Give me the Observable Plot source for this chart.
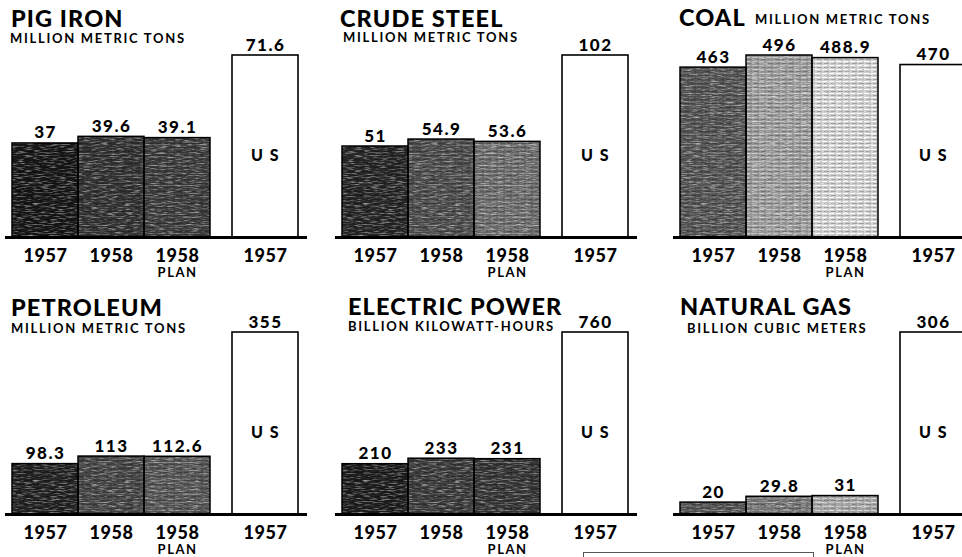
<!DOCTYPE html>
<html>
<head>
<meta charset="utf-8">
<script src="https://cdn.jsdelivr.net/npm/d3@7"></script>
<script src="https://cdn.jsdelivr.net/npm/@observablehq/plot@0.6"></script>
<style>
  html, body { margin: 0; padding: 0; background: #fff; overflow: hidden; }
  #root { position: relative; width: 962px; height: 557px; overflow: hidden; font-family: "Lato", "DejaVu Sans", sans-serif; color: #000; }
  .panel { position: absolute; width: 320px; height: 278px; }
  .panel svg { position: absolute; left: 0; top: 0; overflow: visible; }
  .panel svg text { letter-spacing: 1.5px; }
  .panel svg g.yr text { letter-spacing: 0.6px; }
  .title { position: absolute; font-weight: 900; font-size: 23.5px; line-height: 20px; white-space: nowrap; letter-spacing: 1.1px; }
  .unit { position: absolute; font-weight: 700; font-size: 13px; line-height: 11px; white-space: nowrap; letter-spacing: 1.7px; }
  #box { position: absolute; left: 583px; top: 552px; width: 229px; height: 20px; border: 1px solid #555; }
</style>
</head>
<body>
<div id="root"></div>
<script>
// ---------- data ----------
const panelNames = ["PIG IRON", "CRUDE STEEL", "COAL", "PETROLEUM", "ELECTRIC POWER", "NATURAL GAS"];
const panelUnits = ["MILLION METRIC TONS", "MILLION METRIC TONS", "MILLION METRIC TONS",
                    "MILLION METRIC TONS", "BILLION KILOWATT-HOURS", "BILLION CUBIC METERS"];
const ussr1957 = [37, 51, 463, 98.3, 210, 20];
const ussr1958 = [39.6, 54.9, 496, 113, 233, 29.8];
const ussr1958Plan = [39.1, 53.6, 488.9, 112.6, 231, 31];
const us1957 = [71.6, 102, 470, 355, 760, 306];
const barKeys = ["ussr1957", "ussr1958", "ussr1958plan", "us1957"];
const barYears = ["1957", "1958", "1958", "1957"];
const barSubLabels = ["", "", "PLAN", ""];
const usLabel = "U S";

// ---------- styles (kept apart from data) ----------
const shades = [
  ["#141414", "#2e2e2e", "#383838"],
  ["#222222", "#474747", "#666666"],
  ["#4e4e4e", "#959595", "#cccccc"],
  ["#1e1e1e", "#404040", "#505050"],
  ["#1a1a1a", "#363636", "#313131"],
  ["#4e4e4e", "#6e6e6e", "#a0a0a0"]
];
const colX = [0, 330, 668];
const rowY = [0, 277];
const titleLayout = [
  {t: [11, 8], u: [10, 33]},
  {t: [340, 8], u: [343, 32]},
  {t: [679, 7], u: [755, 14]},
  {t: [11, 297], u: [11, 323]},
  {t: [348, 296], u: [348, 321]},
  {t: [680, 296], u: [687, 323]}
];
const usShift = 22;
const fontFam = "Lato, 'DejaVu Sans', sans-serif";

// ---------- pattern + grain defs ----------
const root = document.getElementById("root");
const NS = "http://www.w3.org/2000/svg";
const defsSvg = document.createElementNS(NS, "svg");
defsSvg.setAttribute("width", 0); defsSvg.setAttribute("height", 0);
defsSvg.style.position = "absolute";
defsSvg.innerHTML = `<defs>
  <filter id="grain" x="0" y="0" width="1" height="1" color-interpolation-filters="sRGB">
    <feTurbulence type="fractalNoise" baseFrequency="0.12 0.9" numOctaves="2" seed="7" result="n"/>
    <feColorMatrix in="n" type="matrix" values="0 0 0 0 1  0 0 0 0 1  0 0 0 0 1  1.5 0 0 0 -0.72" result="w"/>
    <feComposite in="w" in2="SourceGraphic" operator="in" result="wm"/>
    <feMerge><feMergeNode in="SourceGraphic"/><feMergeNode in="wm"/></feMerge>
  </filter>
</defs>`;
root.appendChild(defsSvg);
const defs = defsSvg.querySelector("defs");

function patternId(i, j) { return `pat-${i}-${j}`; }
shades.forEach((row, i) => row.forEach((c, j) => {
  const p = document.createElementNS(NS, "pattern");
  p.setAttribute("id", patternId(i, j));
  p.setAttribute("patternUnits", "userSpaceOnUse");
  p.setAttribute("width", 7); p.setAttribute("height", 4);
  const base = document.createElementNS(NS, "rect");
  base.setAttribute("width", 7); base.setAttribute("height", 4); base.setAttribute("fill", c);
  p.appendChild(base);
  const light = document.createElementNS(NS, "rect");
  light.setAttribute("y", 1); light.setAttribute("width", 5); light.setAttribute("height", 1);
  light.setAttribute("fill", d3.color(c).brighter(0.7).formatHex());
  p.appendChild(light);
  const dark = document.createElementNS(NS, "rect");
  dark.setAttribute("y", 3); dark.setAttribute("x", 2); dark.setAttribute("width", 5); dark.setAttribute("height", 1);
  dark.setAttribute("fill", d3.color(c).darker(0.7).formatHex());
  p.appendChild(dark);
  defs.appendChild(p);
}));

// ---------- panels ----------
panelNames.forEach((name, i) => {
  const values = [ussr1957[i], ussr1958[i], ussr1958Plan[i], us1957[i]];
  const data = barKeys.map((k, j) => ({key: k, value: values[j], year: barYears[j], sub: barSubLabels[j], idx: j}));
  const ussr = data.slice(0, 3);
  const us = data.slice(3);

  const div = document.createElement("div");
  div.className = "panel";
  div.style.left = colX[i % 3] + "px";
  div.style.top = rowY[Math.floor(i / 3)] + "px";

  const textOpts = {fontFamily: fontFam, fontWeight: 900};
  const svg = Plot.plot({
    width: 320, height: 278,
    marginLeft: 5, marginRight: 13, marginTop: 55, marginBottom: 41,
    x: {domain: barKeys, range: [12, 276], padding: 0, axis: null},
    y: {domain: [0, d3.max(values)], axis: null},
    color: {type: "identity"},
    style: {background: "transparent", overflow: "visible"},
    marks: [
      Plot.barY(ussr, {x: "key", y: "value", fill: d => `url(#${patternId(i, d.idx)})`, className: "grainy"}),
      Plot.barY(ussr, {x: "key", y: "value", fill: "none", stroke: "#000", strokeWidth: 1.5}),
      Plot.barY(us, {x: "key", y: "value", fill: "white", stroke: "#000", strokeWidth: 1.6, dx: usShift}),
      Plot.ruleY([0], {stroke: "#000", strokeWidth: 3}),
      Plot.text(ussr, {x: "key", y: "value", text: d => String(d.value), lineAnchor: "bottom", dy: -5, fontSize: 17, ...textOpts}),
      Plot.text(us, {x: "key", y: "value", text: d => String(d.value), lineAnchor: "bottom", dy: -5, dx: usShift, fontSize: 17, ...textOpts}),
      Plot.text(us, {x: "key", text: () => usLabel, frameAnchor: "middle", dx: usShift, dy: 9, fontSize: 16, ...textOpts}),
      Plot.text(ussr, {x: "key", text: "year", frameAnchor: "bottom", lineAnchor: "top", dy: 12, fontSize: 18, className: "yr", ...textOpts}),
      Plot.text(us, {x: "key", text: "year", frameAnchor: "bottom", lineAnchor: "top", dy: 12, dx: usShift, fontSize: 18, className: "yr", ...textOpts}),
      Plot.text(ussr, {x: "key", text: "sub", frameAnchor: "bottom", lineAnchor: "top", dy: 30, fontSize: 13, fontFamily: fontFam, fontWeight: 700})
    ]
  });
  svg.querySelectorAll("g.grainy").forEach(g => g.setAttribute("filter", "url(#grain)"));
  div.appendChild(svg);
  root.appendChild(div);

  const t = document.createElement("div");
  t.className = "title";
  t.textContent = name;
  t.style.left = titleLayout[i].t[0] + "px";
  t.style.top = titleLayout[i].t[1] + "px";
  root.appendChild(t);
  const u = document.createElement("div");
  u.className = "unit";
  u.textContent = panelUnits[i];
  u.style.left = titleLayout[i].u[0] + "px";
  u.style.top = titleLayout[i].u[1] + "px";
  root.appendChild(u);
});

const box = document.createElement("div");
box.id = "box";
root.appendChild(box);
</script>
</body>
</html>
